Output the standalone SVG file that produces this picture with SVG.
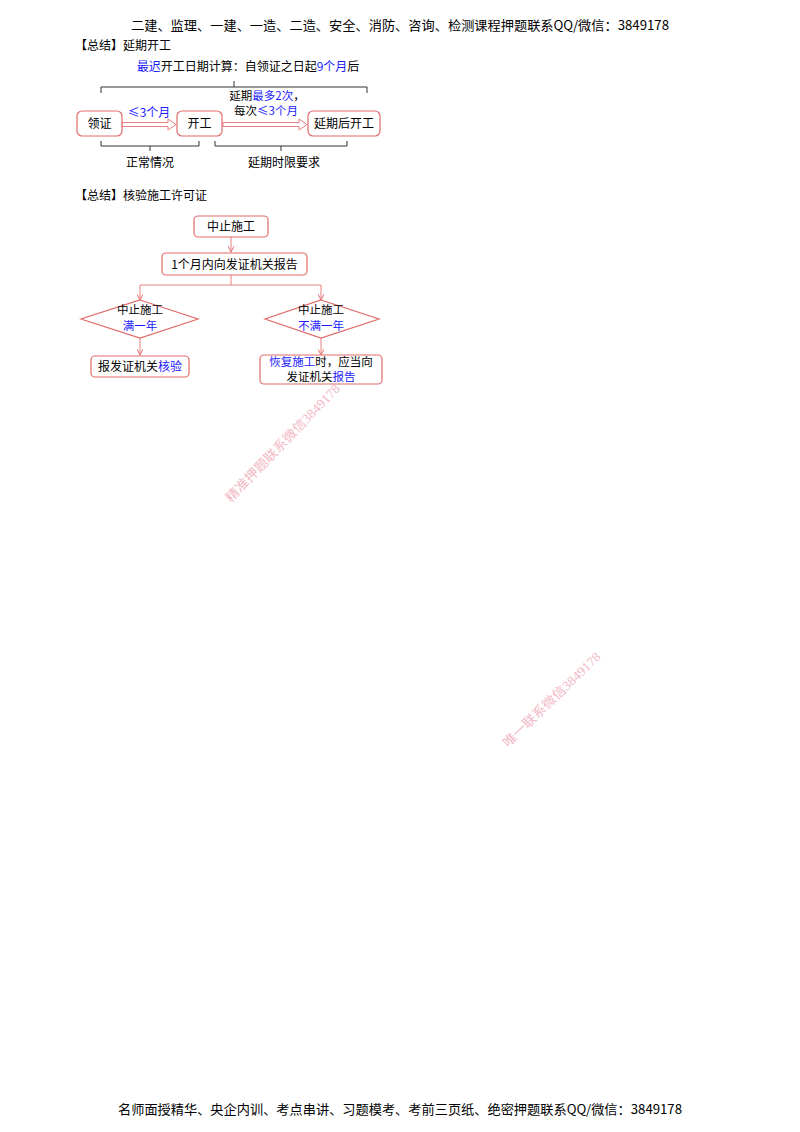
<svg xmlns="http://www.w3.org/2000/svg" width="800" height="1132" viewBox="0 0 800 1132">
<defs>
<style>
.t{font-family:"Noto Sans CJK SC","Liberation Sans",sans-serif;font-size:12px;fill:#000}
.s{font-size:11.5px}
.hd{font-family:"Noto Sans CJK SC","Liberation Sans",sans-serif;font-size:13px;fill:#000}
.b{fill:#1a1aff}
.box{fill:#fff;stroke:#e06a6a;stroke-width:1.2}
.br{fill:none;stroke:#333;stroke-width:1}
.ln{fill:none;stroke:#e88080;stroke-width:1}
.wm{font-family:"Liberation Serif","Noto Sans CJK SC",serif;font-size:13px;fill:#f0a8b8;opacity:0.8}
</style>
<marker id="ah" viewBox="0 0 10 10" refX="9" refY="5" markerWidth="7" markerHeight="7" orient="auto">
<path d="M1,1 L9,5 L1,9" fill="none" stroke="#e88080" stroke-width="1.5"/>
</marker>
</defs>
<rect width="800" height="1132" fill="#fff"/>
<text class="hd" x="400" y="30" text-anchor="middle" textLength="538" lengthAdjust="spacingAndGlyphs">二建、监理、一建、一造、二造、安全、消防、咨询、检测课程押题联系QQ/微信：3849178</text>
<text class="t" x="75" y="50">【总结】延期开工</text>
<text class="t" x="248" y="71" text-anchor="middle"><tspan class="b">最迟</tspan>开工日期计算：自领证之日起<tspan class="b">9个月</tspan>后</text>
<g id="braces">
<path class="br" d="M101,93 V87 H367 V93 M234,87 V81"/>
<path class="br" d="M101,141 V146 H199 V141 M150,146 V151"/>
<path class="br" d="M215,141 V146 H347 V141 M281,146 V151"/>
</g>
<g id="connectors">
<path d="M122,122.5 H168 V119 L176,124.5 L168,130 V126.5 H122 Z" fill="#fff" stroke="#e88080" stroke-width="1"/>
<path d="M223,122.5 H299 V119 L307,124.5 L299,130 V126.5 H223 Z" fill="#fff" stroke="#e88080" stroke-width="1"/>
<path class="ln" d="M231,237 V252" marker-end="url(#ah)"/>
<path class="ln" d="M231,275 V285 M140,285 H321"/>
<path class="ln" d="M140,285 V300" marker-end="url(#ah)"/>
<path class="ln" d="M321,285 V300" marker-end="url(#ah)"/>
<path class="ln" d="M140,338 V355" marker-end="url(#ah)"/>
<path class="ln" d="M321,338 V355" marker-end="url(#ah)"/>
</g>
<text class="t b" x="149" y="117" text-anchor="middle">≤3个月</text>
<text class="t s" x="267" y="100" text-anchor="middle">延期<tspan class="b">最多2次</tspan>，</text>
<text class="t s" x="266" y="115" text-anchor="middle">每次<tspan class="b">≤3个月</tspan></text>
<g id="n1"><rect class="box" x="77" y="111" width="45" height="25" rx="5"/><text class="t" x="99.5" y="128" text-anchor="middle">领证</text></g>
<g id="n2"><rect class="box" x="177" y="111" width="45" height="25" rx="5"/><text class="t" x="199.5" y="128" text-anchor="middle">开工</text></g>
<g id="n3"><rect class="box" x="308" y="111" width="72" height="25" rx="5"/><text class="t" x="344" y="128" text-anchor="middle">延期后开工</text></g>
<text class="t" x="150" y="167" text-anchor="middle">正常情况</text>
<text class="t" x="284" y="167" text-anchor="middle">延期时限要求</text>
<text class="t" x="75" y="200">【总结】核验施工许可证</text>
<g id="n4"><rect class="box" x="194" y="216" width="74" height="21" rx="4"/><text class="t" x="231" y="231" text-anchor="middle">中止施工</text></g>
<g id="n5"><rect class="box" x="162" y="253" width="145" height="22" rx="4"/><text class="t" x="234.5" y="269" text-anchor="middle">1个月内向发证机关报告</text></g>
<g id="n6"><polygon class="box" points="140,300 198,319 140,338 81,319"/><text class="t s" x="140" y="314" text-anchor="middle">中止施工</text><text class="t s b" x="140" y="330" text-anchor="middle">满一年</text></g>
<g id="n7"><polygon class="box" points="321,300 379,319 321,338 265,319"/><text class="t s" x="321" y="314" text-anchor="middle">中止施工</text><text class="t s b" x="321" y="330" text-anchor="middle">不满一年</text></g>
<g id="n8"><rect class="box" x="91" y="356" width="98" height="21" rx="4"/><text class="t" x="140" y="371" text-anchor="middle">报发证机关<tspan class="b">核验</tspan></text></g>
<g id="n9"><rect class="box" x="260" y="355" width="122" height="29" rx="4"/><text class="t s" x="321" y="366" text-anchor="middle"><tspan class="b">恢复施工</tspan>时，应当向</text><text class="t s" x="321" y="381" text-anchor="middle">发证机关<tspan class="b">报告</tspan></text></g>
<text class="wm" transform="translate(231,503) rotate(-46)" textLength="158" lengthAdjust="spacingAndGlyphs">精准押题联系微信3849178</text>
<text class="wm" transform="translate(508,748) rotate(-44)" textLength="130" lengthAdjust="spacingAndGlyphs">唯一联系微信3849178</text>
<text class="hd" x="400" y="1114" text-anchor="middle" textLength="564" lengthAdjust="spacingAndGlyphs">名师面授精华、央企内训、考点串讲、习题模考、考前三页纸、绝密押题联系QQ/微信：3849178</text>
</svg>
